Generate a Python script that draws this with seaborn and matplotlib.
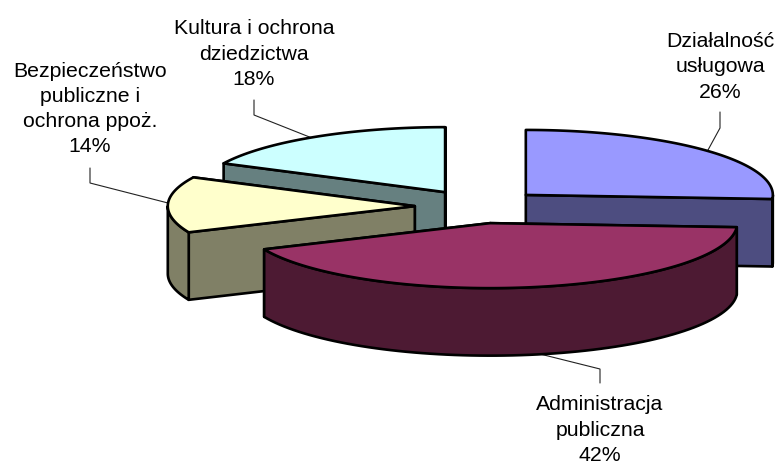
import numpy as np
import matplotlib
matplotlib.use("Agg")
import matplotlib.pyplot as plt
from matplotlib.patches import Polygon
import seaborn as sns

# --- data ---
categories = ["Działalność\nusługowa", "Administracja\npubliczna",
              "Bezpieczeństwo\npubliczne i\nochrona ppoż.", "Kultura i ochrona\ndziedzictwa"]
values = [26.0, 42.4, 13.9, 17.7]

# --- style ---
sns.set_theme(style="white")
plt.rcParams["font.family"] = ["Liberation Sans", "DejaVu Sans"]
top_colors = sns.color_palette(["#9999FF", "#993366", "#FFFFCC", "#CCFFFF"])
side_colors = [tuple(0.5 * c for c in col) for col in top_colors]

# --- layout of the projected pie (pixels) ---
CX, CY, RX, RY, DEPTH, EXPLODE = 479.0, 206.5, 247.0, 65.0, 67.5, 0.26
label_pos = [(720, 67), (600, 430), (90, 109), (254, 54)]
leaders = [[(720, 112), (720, 128), (708, 150)],
           [(600, 383), (600, 369), (540, 354)],
           [(90, 168), (90, 183), (168, 203)],
           [(254, 100), (254, 115), (312, 138)]]

fig = plt.figure(figsize=(7.76, 4.62), dpi=100, facecolor="white")
ax = fig.add_axes([0, 0, 1, 1])
ax.set_xlim(0, 776)
ax.set_ylim(462, 0)
ax.axis("off")

LW = 1.9
shares = np.array(values) / np.sum(values) * 360.0
ends = np.cumsum(shares)
starts = ends - shares


def pt(cx, cy, t, dz=0.0):
    r = np.radians(t)
    return np.column_stack([cx + RX * np.sin(r), cy - RY * np.cos(r) + dz])


def poly(xy, color, z):
    ax.add_patch(Polygon(xy, closed=True, facecolor=color, edgecolor="black",
                         linewidth=LW, joinstyle="round", zorder=z))


centres = []
for a, b in zip(starts, ends):
    mid = np.radians((a + b) / 2)
    centres.append((CX + EXPLODE * RX * np.sin(mid), CY - EXPLODE * RY * np.cos(mid)))

order = np.argsort([c[1] for c in centres])
for rank, i in enumerate(order):
    cx, cy = centres[i]
    a, b = starts[i], ends[i]
    z = 10 + rank * 10
    apex = np.array([[cx, cy]])
    # radial faces: back one first
    faces = sorted([a, b], key=lambda t: -np.cos(np.radians(t)))
    for k, t in enumerate(faces):
        edge = pt(cx, cy, np.array([t]))
        quad = np.vstack([apex, edge, edge + [0, DEPTH], apex + [0, DEPTH]])
        poly(quad, side_colors[i], z + k)
    # outer wall: only the part facing the viewer
    lo, hi = max(a, 90.0), min(b, 270.0)
    if hi > lo:
        ts = np.linspace(lo, hi, 80)
        poly(np.vstack([pt(cx, cy, ts), pt(cx, cy, ts[::-1], DEPTH)]), side_colors[i], z + 2)
    # top face
    ts = np.linspace(a, b, 160)
    poly(np.vstack([apex, pt(cx, cy, ts)]), top_colors[i], z + 3)

# --- labels and leader lines ---
for name, val, (lx, ly), lead in zip(categories, values, label_pos, leaders):
    ax.text(lx, ly, f"{name}\n{val:.0f}%", ha="center", va="center", fontsize=15.35,
            color="black", linespacing=1.42, zorder=100)
    xs, ys = zip(*lead)
    ax.plot(xs, ys, color="#222222", lw=0.8, zorder=5, solid_joinstyle="miter")

fig.savefig("out.png", dpi=100)
